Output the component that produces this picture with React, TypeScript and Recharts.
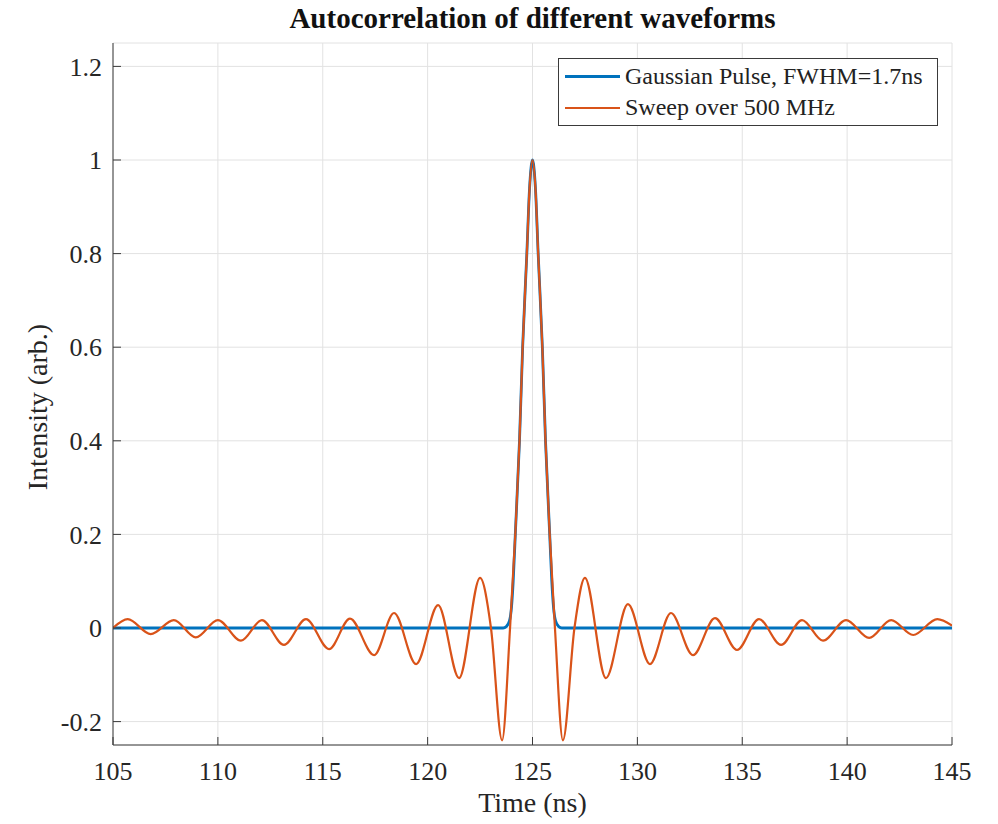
import { LineChart, Line, XAxis, YAxis, CartesianGrid, Legend } from "recharts";

const FONT = "'Liberation Serif', 'DejaVu Serif', serif";
const BLUE = "#0072BD";
const ORANGE = "#D95319";
const AXIS = "#3a3a3a";

const xTicks = [105, 110, 115, 120, 125, 130, 135, 140, 145];
const yTicks = [-0.2, 0, 0.2, 0.4, 0.6, 0.8, 1, 1.2];

// chirp (sweep over 500 MHz) autocorrelation
const sweepTime = [
  105, 105.7, 106.8, 107.9, 108.95, 110, 111.1, 112.1, 113.15, 114.2, 115.3,
  116.3, 117.45, 118.4, 119.45, 120.5, 121.5, 122.5, 123.02, 123.55, 123.93,
  124.18, 124.38, 124.53, 124.73, 124.86, 125, 125.14, 125.27, 125.47, 125.62,
  125.82, 126.07, 126.45, 127.0, 127.5, 128.5, 129.55, 130.6, 131.6, 132.65,
  133.7, 134.75, 135.8, 136.85, 137.85, 138.85, 139.95, 141.05, 142.1, 143.15,
  144.3, 145,
];
const sweepValue = [
  0, 0.019, -0.013, 0.017, -0.02, 0.017, -0.027, 0.017, -0.036, 0.019, -0.045,
  0.02, -0.058, 0.032, -0.077, 0.049, -0.107, 0.107, 0, -0.24, 0,
  0.2, 0.4, 0.6, 0.8, 0.94, 1, 0.94, 0.8, 0.6, 0.4,
  0.2, 0, -0.24, 0, 0.107, -0.107, 0.051, -0.077, 0.032, -0.058,
  0.021, -0.047, 0.019, -0.036, 0.017, -0.027, 0.017, -0.021, 0.017, -0.015,
  0.019, 0.005,
];

// gaussian pulse autocorrelation
const pulseTime = [
  105, 123.6, 123.75, 123.9, 124.0, 124.08, 124.18, 124.38, 124.53, 124.73,
  124.86, 125, 125.14, 125.27, 125.47, 125.62, 125.82, 125.92, 126.0, 126.1,
  126.25, 126.4, 145,
];
const pulseValue = [
  0, 0, 0.003, 0.015, 0.045, 0.1, 0.2, 0.4, 0.6, 0.8,
  0.94, 1, 0.94, 0.8, 0.6, 0.4, 0.2, 0.1, 0.045, 0.015,
  0.003, 0, 0,
];

const sweep = sweepTime.map((t, i) => ({ t, v: sweepValue[i] }));
const pulse = pulseTime.map((t, i) => ({ t, v: pulseValue[i] }));

const fmtY = (v: number) => String(+v.toFixed(1));

function LegendBox() {
  const row = (color: string, w: number, text: string) => (
    <div style={{ display: "flex", alignItems: "center", height: 31 }}>
      <div style={{ width: 55, height: 0, borderTop: `${w}px solid ${color}`, marginLeft: 6, marginRight: 5 }} />
      <span style={{ fontSize: 24, color: "#222", fontFamily: FONT, whiteSpace: "nowrap" }}>{text}</span>
    </div>
  );
  return (
    <div
      style={{
        width: 378,
        height: 64,
        border: `1px solid ${AXIS}`,
        background: "#fff",
        paddingTop: 2,
      }}
    >
      {row(BLUE, 3, "Gaussian Pulse, FWHM=1.7ns")}
      {row(ORANGE, 2, "Sweep over 500 MHz")}
    </div>
  );
}

export default function App() {
  const tickStyle = { fill: "#262626", fontSize: 26, fontFamily: FONT };
  return (
    <div
      style={{
        position: "absolute",
        left: 0,
        top: 0,
        width: 998,
        height: 824,
        background: "#fff",
        fontFamily: FONT,
      }}
    >
      <div
        style={{
          position: "absolute",
          left: 113,
          width: 839,
          top: 1,
          lineHeight: "34px",
          textAlign: "center",
          fontWeight: "bold",
          fontSize: 29,
          color: "#111",
          whiteSpace: "nowrap",
        }}
      >
        Autocorrelation of different waveforms
      </div>
      <div
        style={{
          position: "absolute",
          left: 38 - 120,
          top: 407 - 17,
          width: 240,
          height: 34,
          textAlign: "center",
          fontSize: 28,
          color: "#262626",
          transform: "rotate(-90deg)",
          lineHeight: "34px",
          whiteSpace: "nowrap",
        }}
      >
        Intensity (arb.)
      </div>
      <div
        style={{
          position: "absolute",
          left: 113,
          width: 839,
          top: 786,
          lineHeight: "34px",
          textAlign: "center",
          fontSize: 28,
          color: "#262626",
        }}
      >
        Time (ns)
      </div>
      <LineChart
        width={998}
        height={824}
        margin={{ top: 43, right: 46, bottom: 19, left: 53 }}
        style={{ position: "absolute", left: 0, top: 0 }}
      >
        <CartesianGrid stroke="#e2e2e2" strokeWidth={1} />
        <XAxis
          type="number"
          dataKey="t"
          domain={[105, 145]}
          ticks={xTicks}
          allowDataOverflow
          height={60}
          stroke={AXIS}
          tickSize={-8}
          tickMargin={25}
          tick={tickStyle}
        />
        <XAxis
          xAxisId="top"
          orientation="top"
          type="number"
          dataKey="t"
          domain={[105, 145]}
          ticks={xTicks}
          allowDataOverflow
          height={0}
          stroke={AXIS}
          tickSize={-8}
          tickFormatter={() => ""}
        />
        <YAxis
          type="number"
          domain={[-0.25, 1.25]}
          ticks={yTicks}
          allowDataOverflow
          width={60}
          stroke={AXIS}
          tickSize={-8}
          tickMargin={19}
          tickFormatter={fmtY}
          tick={tickStyle}
        />
        <YAxis
          yAxisId="right"
          orientation="right"
          type="number"
          domain={[-0.25, 1.25]}
          ticks={yTicks}
          allowDataOverflow
          width={0}
          stroke={AXIS}
          tickSize={-8}
          tickFormatter={() => ""}
        />
        <Legend
          verticalAlign="middle"
          align="center"
          layout="vertical"
          wrapperStyle={{ position: "absolute", top: 58, left: 558, width: 380 }}
          content={() => <LegendBox />}
        />
        <Line
          data={pulse}
          dataKey="v"
          type="monotone"
          stroke={BLUE}
          strokeWidth={2.8}
          dot={false}
          isAnimationActive={false}
        />
        <Line
          data={sweep}
          dataKey="v"
          type="monotone"
          stroke={ORANGE}
          strokeWidth={2.2}
          dot={false}
          isAnimationActive={false}
        />
      </LineChart>
    </div>
  );
}
